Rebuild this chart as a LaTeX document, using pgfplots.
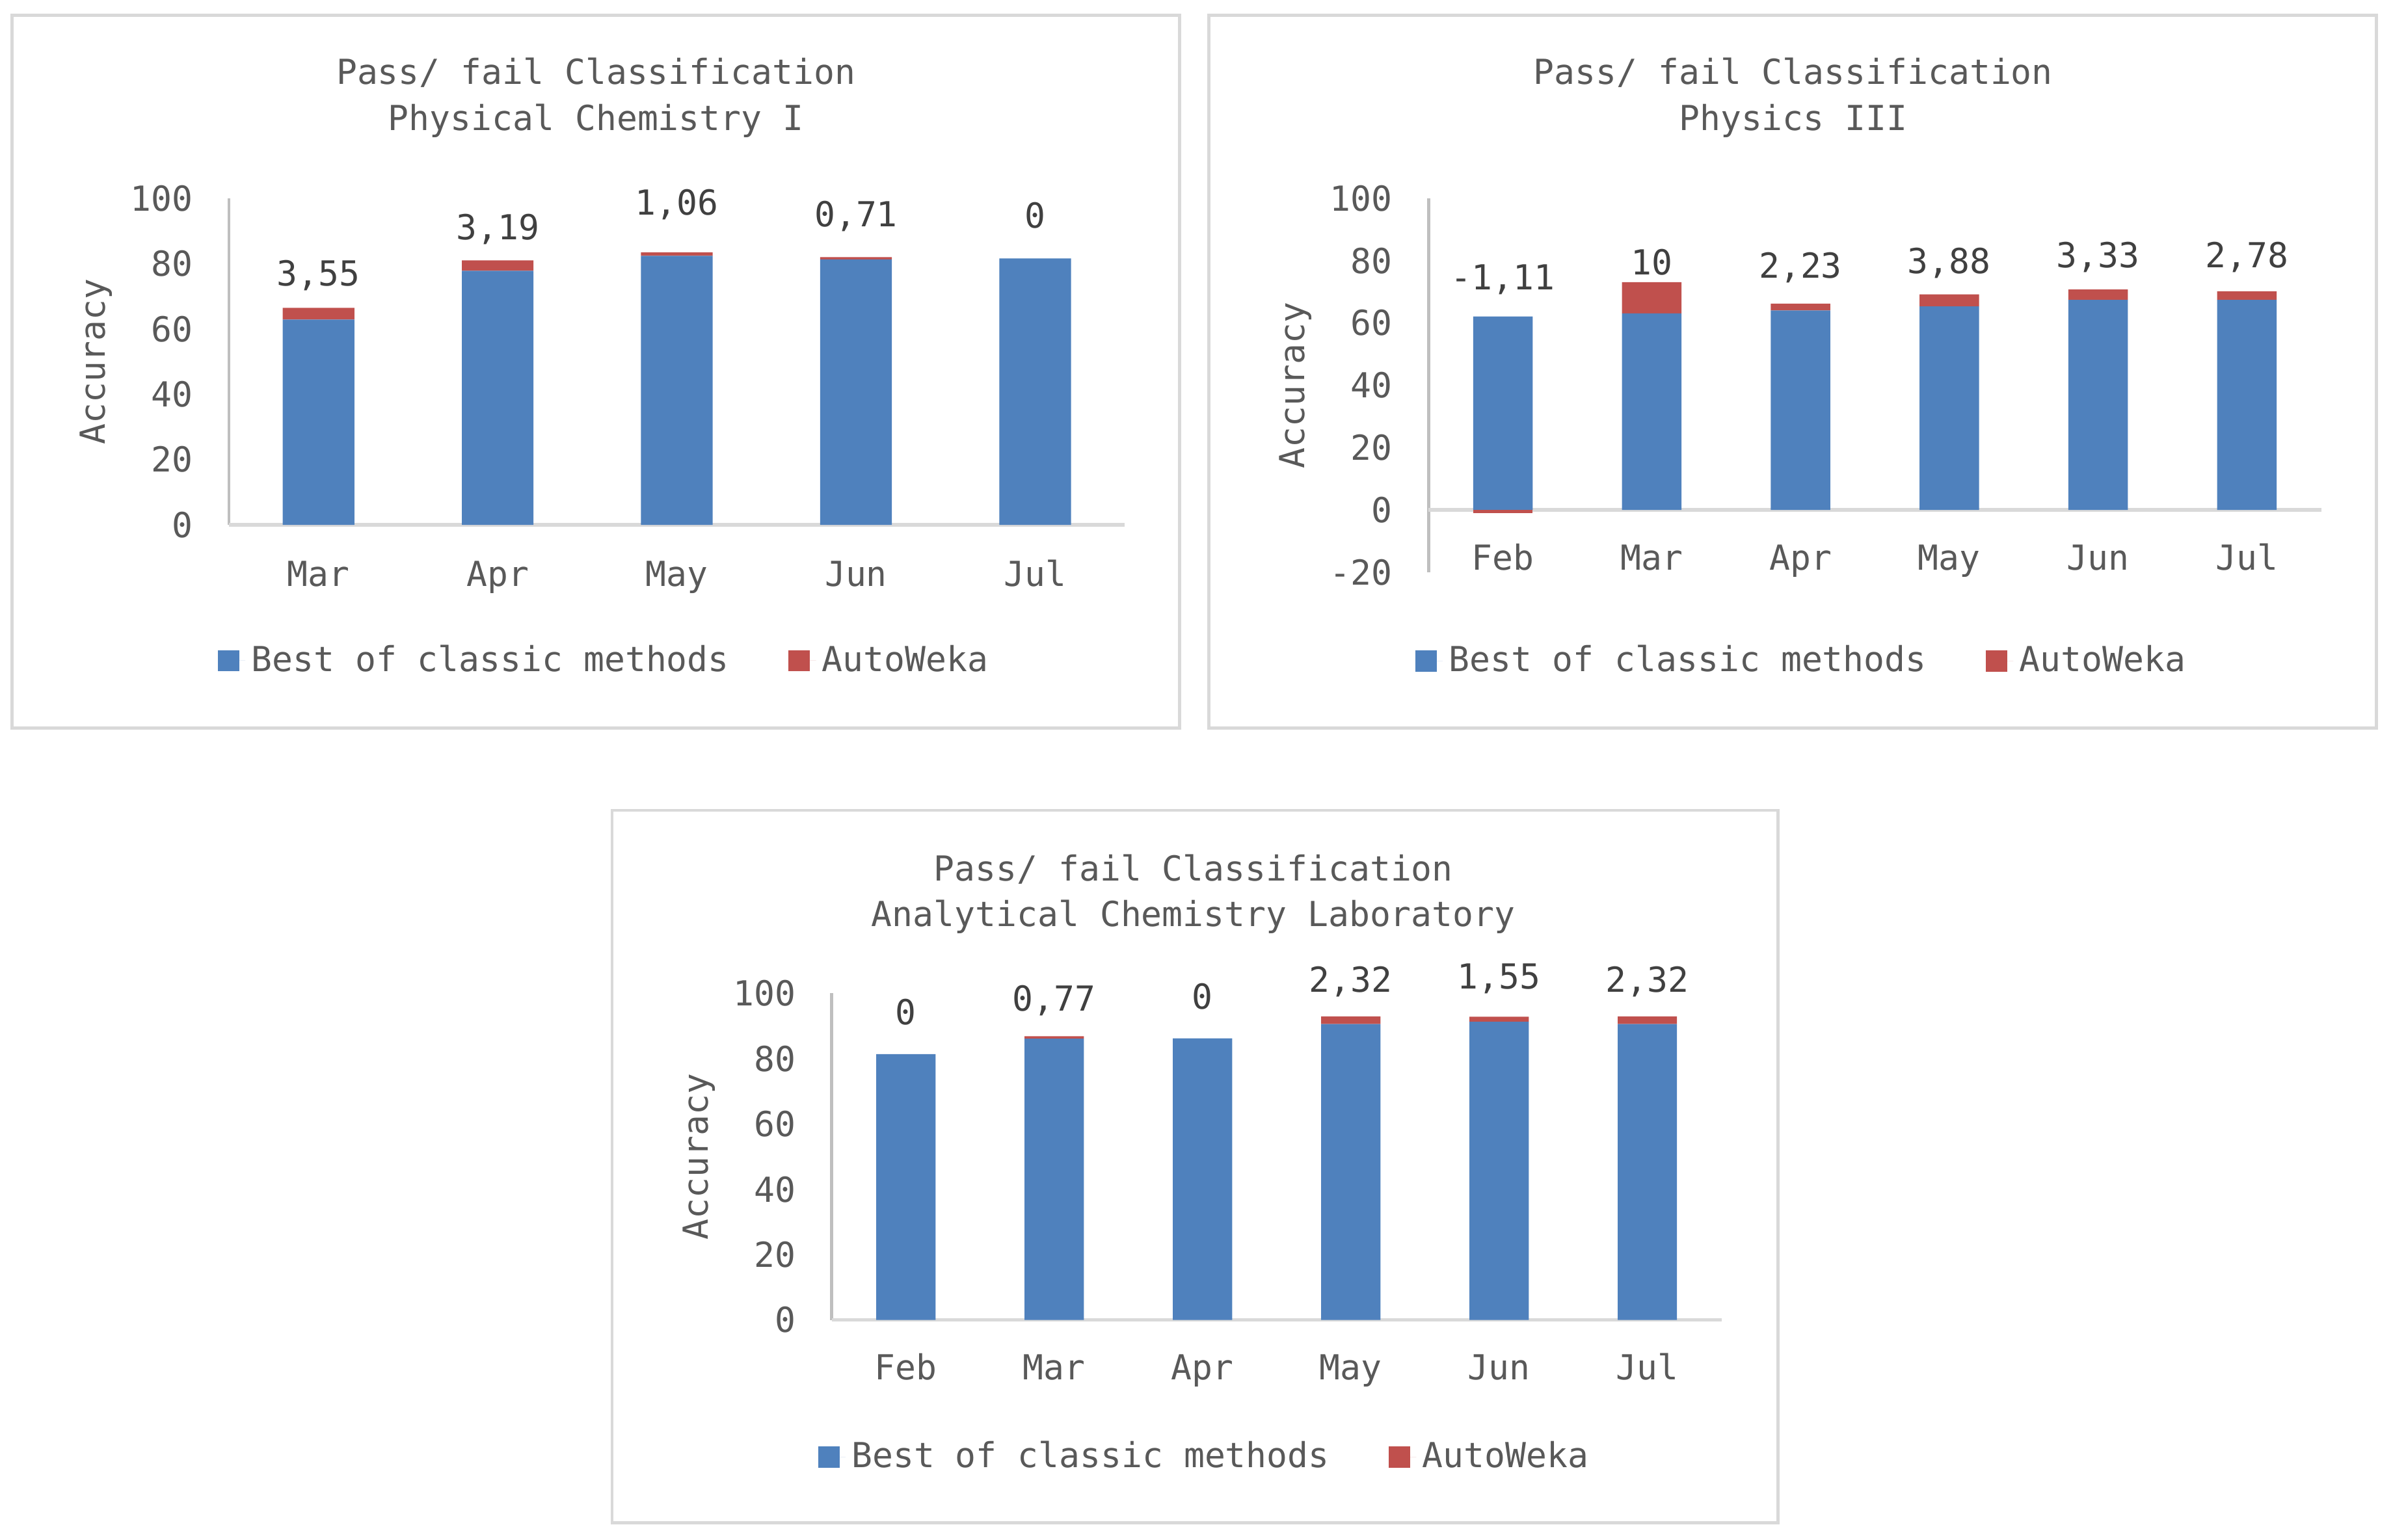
\documentclass[border=0pt]{standalone}
\usepackage{fontspec}
\setmainfont{DejaVu Sans Mono}
\usepackage{pgfplots}
\pgfplotsset{compat=1.18}

\definecolor{cblue}{HTML}{4F81BD}
\definecolor{cred}{HTML}{C0504D}
\definecolor{ctext}{HTML}{595959}
\definecolor{clabel}{HTML}{404040}
\definecolor{cframe}{HTML}{D9D9D9}
\definecolor{cyax}{HTML}{BFBFBF}

\pgfplotsset{
  panel/.style={
    scale only axis,
    ybar stacked,
    bar width=0.4,
    enlargelimits=false,
    axis x line=bottom,
    axis y line=left,
    x axis line style={draw=none},
    y axis line style={-, draw=cyax, line width=1pt},
    tick style={draw=none},
    extra y ticks={0},
    extra y tick labels={},
    extra y tick style={grid=major, major grid style={draw=cframe, line width=1.2pt}},
    /pgf/number format/assume math mode=true,
    tick label style={text=ctext},
    xticklabel style={anchor=base},
    yticklabel style={anchor=east, inner sep=0pt, xshift=-9.5pt},
    ylabel={Accuracy},
    every axis y label/.style={at={(axis description cs:0,0.5)}, anchor=center, rotate=90, yshift=43.5pt, text=ctext},
    title style={align=center, anchor=center, text=ctext},
    legend style={draw=none, fill=none, anchor=center, text=ctext, legend columns=2,
      /tikz/every even column/.append style={column sep=17.5pt}},
  },
  labels/.style={scale only axis, hide axis, enlargelimits=false, clip=false},
  sq/.style={legend image code/.code={\fill[##1] (0pt,-3.5pt) rectangle (7pt,3.5pt); \path (7pt,0pt) -- (9pt,0pt);}},
  vals/.style={draw=none, mark=none, nodes near coords, point meta=explicit symbolic,
    every node near coord/.append style={anchor=center, inner sep=0pt, text=clabel}},
}

\begin{document}
\fontsize{11.3}{15}\selectfont
\begin{tikzpicture}
\path[use as bounding box] (0,0) rectangle (784pt,-504.6pt);
\draw[cframe, line width=1pt] (4pt,-5pt) rectangle (386.5pt,-238.5pt);
\draw[cframe, line width=1pt] (396pt,-5pt) rectangle (778.5pt,-238.5pt);
\draw[cframe, line width=1pt] (200.5pt,-265.5pt) rectangle (582.5pt,-499pt);

% Physical Chemistry I
\begin{axis}[panel, at={(75pt,-172pt)}, anchor=south west, width=293.5pt, height=107pt,
  xmin=-0.5, xmax=4.5, ymin=0, ymax=100, ytick={0,20,...,100},
  xtick={0,...,4}, xticklabels={Mar,Apr,May,Jun,Jul},
  xticklabel style={yshift=-18pt},
  title={Pass/ fail Classification\\Physical Chemistry I},
  title style={at={(axis description cs:0.4097,1)}, yshift=27pt},
  legend style={at={(axis description cs:0.421,-0.416)}}]
\addplot[fill=cblue, draw=none, sq] table {
x y
0 62.9
1 77.8
2 82.4
3 81.3
4 81.6
};
\addlegendentry{Best of classic methods}
\addplot[fill=cred, draw=none, sq] table {
x y
0 3.55
1 3.19
2 1.06
3 0.71
4 0
};
\addlegendentry{AutoWeka}
\end{axis}
\begin{axis}[labels, at={(75pt,-172pt)}, anchor=south west, width=293.5pt, height=107pt,
  xmin=-0.5, xmax=4.5, ymin=0, ymax=100]
\addplot[vals] table[meta=lbl] {
x y lbl
0 76.3 3,55
1 90.6 3,19
2 98.2 1,06
3 94.6 0,71
4 94.8 0
};
\end{axis}

% Physics III
\begin{axis}[panel, at={(468pt,-187.5pt)}, anchor=south west, width=292.5pt, height=122.5pt,
  xmin=-0.5, xmax=5.5, ymin=-20, ymax=100, ytick={-20,0,...,100},
  xtick={0,...,5}, xticklabels={Feb,Mar,Apr,May,Jun,Jul},
  xticklabel style={yshift=2.9pt},
  title={Pass/ fail Classification\\Physics III},
  title style={at={(axis description cs:0.4085,1)}, yshift=27pt},
  legend style={at={(axis description cs:0.42,-0.237)}}]
\addplot[fill=cblue, draw=none, sq] table {
x y
0 62.1
1 63.1
2 64.0
3 65.3
4 67.4
5 67.4
};
\addlegendentry{Best of classic methods}
\addplot[fill=cred, draw=none, sq] table {
x y
0 0
1 10
2 2.23
3 3.88
4 3.33
5 2.78
};
\addlegendentry{AutoWeka}
\end{axis}
\begin{axis}[labels, at={(468pt,-187.5pt)}, anchor=south west, width=292.5pt, height=122.5pt,
  xmin=-0.5, xmax=5.5, ymin=-20, ymax=100]
\addplot[ybar, bar width=0.4, bar shift=0pt, fill=cred, draw=none] coordinates {(0,-1.11)};
\addplot[vals] table[meta=lbl] {
x y lbl
0 74.0 -1,11
1 79.6 10
2 77.8 2,23
3 79.2 3,88
4 81.1 3,33
5 81.1 2,78
};
\end{axis}

% Analytical Chemistry Laboratory
\begin{axis}[panel, at={(272.5pt,-432.5pt)}, anchor=south west, width=291.5pt, height=107pt,
  xmin=-0.5, xmax=5.5, ymin=0, ymax=100, ytick={0,20,...,100},
  xtick={0,...,5}, xticklabels={Feb,Mar,Apr,May,Jun,Jul},
  xticklabel style={yshift=-17.5pt},
  title={Pass/ fail Classification\\Analytical Chemistry Laboratory},
  title style={at={(axis description cs:0.4065,1)}, yshift=26.5pt},
  legend style={at={(axis description cs:0.421,-0.42)}}]
\addplot[fill=cblue, draw=none, sq] table {
x y
0 81.4
1 86.1
2 86.2
3 90.6
4 91.3
5 90.6
};
\addlegendentry{Best of classic methods}
\addplot[fill=cred, draw=none, sq] table {
x y
0 0
1 0.77
2 0
3 2.32
4 1.55
5 2.32
};
\addlegendentry{AutoWeka}
\end{axis}
\begin{axis}[labels, at={(272.5pt,-432.5pt)}, anchor=south west, width=291.5pt, height=107pt,
  xmin=-0.5, xmax=5.5, ymin=0, ymax=100]
\addplot[vals] table[meta=lbl] {
x y lbl
0 94.2 0
1 97.8 0,77
2 99.0 0
3 103.6 2,32
4 104.5 1,55
5 103.6 2,32
};
\end{axis}
\end{tikzpicture}
\end{document}
